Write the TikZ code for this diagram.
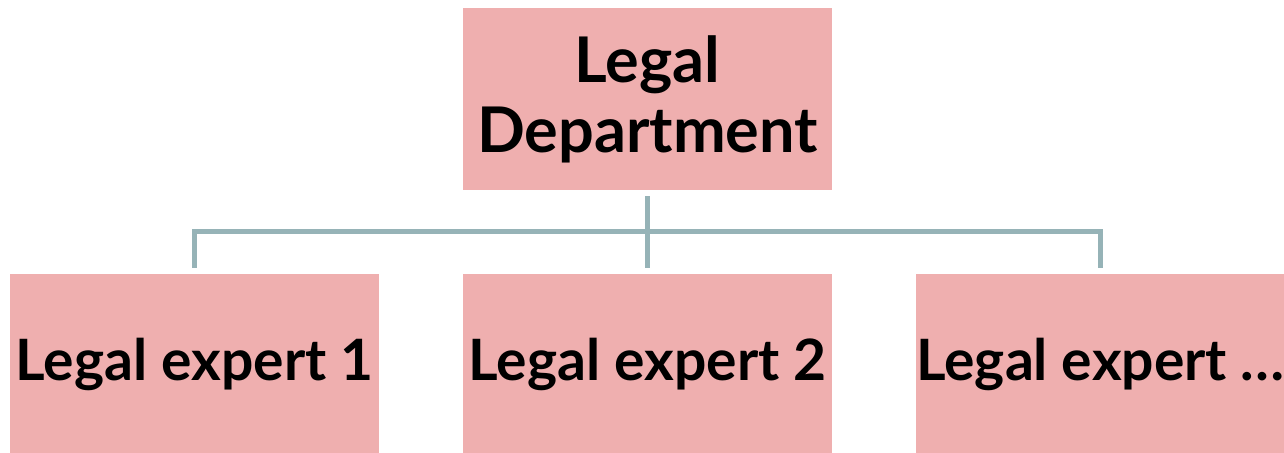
\documentclass[tikz,border=0pt]{standalone}
\usepackage{fontspec}
\setmainfont{Lato}
\usetikzlibrary{positioning}
\definecolor{boxPink}{RGB}{239,175,175}
\definecolor{linkTeal}{RGB}{150,179,183}

\begin{document}
\begin{tikzpicture}[
  box/.style={fill=boxPink,draw=none,minimum width=184.5pt,minimum height=90pt,
    inner sep=0pt,align=center,font=\fontsize{28.5}{35}\selectfont\bfseries},
  link/.style={draw=linkTeal,line width=2.5pt}]

\useasboundingbox (0,0) rectangle (642pt,-226pt);

\def\experts{1,2,\ldots}
\def\xStep{226.5pt}

% the department on top
\node[box,minimum height=91pt,font=\fontsize{31.5}{35}\selectfont\bfseries] (dep) at (323.75pt,-49.5pt) {Legal\\Department};

% the experts below
\foreach \n [count=\ni] in \experts
\node[box] (exp\ni) at ({97.25pt+(\ni-1)*\xStep},-182pt) {Legal expert \n};

% draw the tree lines
\draw[link] ([yshift=-3pt]dep.south) -- ([yshift=3pt]exp2.north);
\draw[link] ([yshift=3pt]exp1.north) -- ++(0,18pt) -| ([yshift=3pt]exp3.north);

\end{tikzpicture}
\end{document}
